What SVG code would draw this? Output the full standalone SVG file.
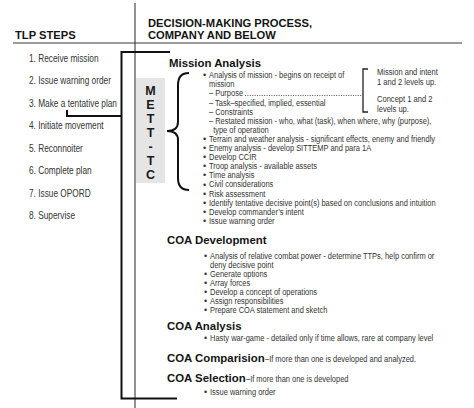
<svg xmlns="http://www.w3.org/2000/svg" width="474" height="408" viewBox="0 0 474 408">
<style>
.h{font-family:"Liberation Sans",Arial,sans-serif;font-weight:bold;fill:#141414}
.hd{font-size:11.2px}
.sec{font-size:11.4px}
.t{font-family:"Liberation Sans",Arial,sans-serif;font-size:9px;fill:#333}
.n{font-family:"Liberation Sans",Arial,sans-serif;font-size:8.8px;fill:#333}
.st{font-family:"Liberation Sans",Arial,sans-serif;font-size:10px;fill:#333}
.sm{font-family:"Liberation Sans",Arial,sans-serif;font-size:8.4px;fill:#333}
.b{font-family:"Liberation Sans",Arial,sans-serif;font-size:9px;fill:#333}
.m{font-family:"Liberation Sans",Arial,sans-serif;font-size:12.5px;font-weight:bold;fill:#1a1a1a;text-anchor:middle}
.thick{fill:none;stroke:#111;stroke-width:2}
.thin{fill:none;stroke:#3a3a3a;stroke-width:1.1}
</style>
<rect width="474" height="408" fill="#fff"/>

<g id="header">
<text class="h hd" x="15" y="38.5">TLP STEPS</text>
<text class="h hd" x="148" y="27">DECISION-MAKING PROCESS,</text>
<text class="h hd" x="148" y="38.5">COMPANY AND BELOW</text>
</g>

<g id="tlp-steps" transform="translate(29 0) scale(0.83 1)">
<text class="st" x="0" y="62">1. Receive mission</text>
<text class="st" x="0" y="84.5">2. Issue warning order</text>
<text class="st" x="0" y="107">3. Make a tentative plan</text>
<text class="st" x="0" y="129.5">4. Initiate movement</text>
<text class="st" x="0" y="152">5. Reconnoiter</text>
<text class="st" x="0" y="174.5">6. Complete plan</text>
<text class="st" x="0" y="197">7. Issue OPORD</text>
<text class="st" x="0" y="219.5">8. Supervise</text>
</g>

<g id="mett-tc">
<rect x="136" y="78" width="29" height="105" fill="#e5e5e5"/>
<text class="m" x="150.5" y="95">M</text>
<text class="m" x="150.5" y="109">E</text>
<text class="m" x="150.5" y="123">T</text>
<text class="m" x="150.5" y="137">T</text>
<text class="m" x="150.5" y="151">-</text>
<text class="m" x="150.5" y="165">T</text>
<text class="m" x="150.5" y="179">C</text>
</g>

<g id="connectors">
<line class="thin" x1="13" y1="43" x2="462" y2="43"/>
<line class="thin" x1="135" y1="3" x2="135" y2="408"/>
<path class="thick" d="M170 52 H121.5 V398.5 H177"/>
<path class="thick" d="M67 110 V116 H121.5"/>
<path class="thick" d="M189 73 Q178 73 178 85 V122 Q178 131 167 131 Q178 131 178 140 V178 Q178 190 189 190"/>
<path fill="none" stroke="#222" stroke-width="1.3" d="M368 69 H363 V112 H368"/>
<line x1="245" y1="95.5" x2="362" y2="95.5" stroke="#444" stroke-width="0.9" stroke-dasharray="1 1.4"/>
</g>

<g id="levels-note" transform="translate(377 0) scale(0.86 1)">
<text class="n" x="0" y="75">Mission and intent</text>
<text class="n" x="0" y="85">1 and 2 levels up.</text>
<text class="n" x="0" y="102.5">Concept 1 and 2</text>
<text class="n" x="0" y="112.5">levels up.</text>
</g>

<g id="mission-analysis">
<text class="h sec" x="169" y="67">Mission Analysis</text>
<g class="bullets">
<text class="b" x="203" y="78.3">•</text>
<text class="b" x="203" y="142">•</text>
<text class="b" x="203" y="151.1">•</text>
<text class="b" x="203" y="160.2">•</text>
<text class="b" x="203" y="169.3">•</text>
<text class="b" x="203" y="178.4">•</text>
<text class="b" x="203" y="187.5">•</text>
<text class="b" x="203" y="196.6">•</text>
<text class="b" x="203" y="205.7">•</text>
<text class="b" x="203" y="214.8">•</text>
<text class="b" x="203" y="223.9">•</text>
</g>
<g transform="translate(209 0) scale(0.83 1)">
<text class="t" x="0" y="78.3">Analysis of mission - begins on receipt of</text>
<text class="t" x="0" y="87.4">mission</text>
<text class="t" x="0" y="96.5">– Purpose</text>
<text class="t" x="0" y="105.6">– Task–specified, implied, essential</text>
<text class="t" x="0" y="114.7">– Constraints</text>
<text class="t" x="0" y="123.8">– Restated mission - who, what (task), when where, why (purpose),</text>
<text class="t" x="5" y="132.9">type of operation</text>
<text class="t" x="0" y="142">Terrain and weather analysis - significant effects, enemy and friendly</text>
<text class="t" x="0" y="151.1">Enemy analysis - develop SITTEMP and para 1A</text>
<text class="t" x="0" y="160.2">Develop CCIR</text>
<text class="t" x="0" y="169.3">Troop analysis - available assets</text>
<text class="t" x="0" y="178.4">Time analysis</text>
<text class="t" x="0" y="187.5">Civil considerations</text>
<text class="t" x="0" y="196.6">Risk assessment</text>
<text class="t" x="0" y="205.7">Identify tentative decisive point(s) based on conclusions and intuition</text>
<text class="t" x="0" y="214.8">Develop commander’s intent</text>
<text class="t" x="0" y="223.9">Issue warning order</text>
</g>
</g>

<g id="coa-development">
<text class="h sec" x="167" y="244">COA Development</text>
<text class="b" x="204" y="259.3">•</text>
<text class="b" x="204" y="277.3">•</text>
<text class="b" x="204" y="286.3">•</text>
<text class="b" x="204" y="295.3">•</text>
<text class="b" x="204" y="304.3">•</text>
<text class="b" x="204" y="313.3">•</text>
<g transform="translate(210 0) scale(0.83 1)">
<text class="t" x="0" y="259.3">Analysis of relative combat power - determine TTPs, help confirm or</text>
<text class="t" x="0" y="268.3">deny decisive point</text>
<text class="t" x="0" y="277.3">Generate options</text>
<text class="t" x="0" y="286.3">Array forces</text>
<text class="t" x="0" y="295.3">Develop a concept of operations</text>
<text class="t" x="0" y="304.3">Assign responsibilities</text>
<text class="t" x="0" y="313.3">Prepare COA statement and sketch</text>
</g>
</g>

<g id="coa-analysis">
<text class="h sec" x="167" y="329.5">COA Analysis</text>
<text class="b" x="204" y="341">•</text>
<text class="t" transform="translate(210 341) scale(0.83 1)">Hasty war-game - detailed only if time allows, rare at company level</text>
</g>

<g id="coa-comparision">
<text class="h sec" x="167" y="361.5">COA Comparision</text>
<text class="sm" transform="translate(265 361.5) scale(0.89 1)">–If more than one is developed and analyzed.</text>
</g>

<g id="coa-selection">
<text class="h sec" x="167" y="381.5">COA Selection</text>
<text class="sm" transform="translate(246 381.5) scale(0.89 1)">–If more than one is developed</text>
<text class="b" x="204" y="395">•</text>
<text class="t" transform="translate(210 395) scale(0.83 1)">Issue warning order</text>
</g>
</svg>
